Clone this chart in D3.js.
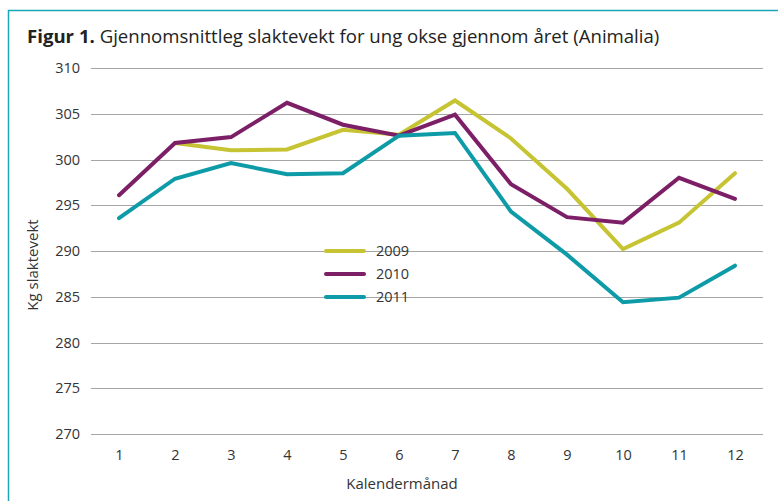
<!DOCTYPE html>
<html>
<head>
<meta charset="utf-8">
<script src="https://cdn.jsdelivr.net/npm/d3@7"></script>
<style>
  body { margin: 0; background: #fff; }
  text { font-family: "Open Sans", "Noto Sans", sans-serif; fill: #333; }
</style>
</head>
<body>
<div id="vis"></div>
<script>
// Months on the x axis
var months = [1, 2, 3, 4, 5, 6, 7, 8, 9, 10, 11, 12];

// Average weights per year (2009 has no value for January)
var v2009 = [null, 301.8, 301.0, 301.1, 303.25, 302.7, 306.45, 302.3, 296.8, 290.2, 293.1, 298.5];
var v2010 = [296.1, 301.8, 302.45, 306.2, 303.8, 302.6, 304.9, 297.3, 293.7, 293.1, 298.0, 295.7];
var v2011 = [293.6, 297.9, 299.6, 298.4, 298.5, 302.6, 302.9, 294.3, 289.6, 284.4, 284.9, 288.4];

var seriesNames = ['2009', '2010', '2011'];
var yTicks = [270, 275, 280, 285, 290, 295, 300, 305, 310];

var series = [
    { name: seriesNames[0], values: v2009, color: '#c6c432' },
    { name: seriesNames[1], values: v2010, color: '#7c1f66' },
    { name: seriesNames[2], values: v2011, color: '#0e9ba8' }
];

var width = 778;
var height = 501;
var margin = { top: 68, right: 15, bottom: 67, left: 91 };
var drawWidth = width - margin.left - margin.right;
var drawHeight = height - margin.top - margin.bottom;

var svg = d3.select('#vis')
    .append('svg')
    .attr('width', width)
    .attr('height', height);

// Frame around the figure
svg.append('path')
    .attr('d', 'M8.5,' + height + ' V10.5 H' + width)
    .attr('fill', 'none')
    .attr('stroke', '#1aa6b7')
    .attr('stroke-width', 1.5);

// Title
var title = svg.append('text')
    .attr('x', 27)
    .attr('y', 43)
    .style('font-size', '18.6px')
    .style('fill', '#222');
title.append('tspan').style('font-weight', 'bold').text('Figur 1.');
title.append('tspan').text(' Gjennomsnittleg slaktevekt for ung okse gjennom året (Animalia)');

var g = svg.append('g')
    .attr('transform', `translate(${margin.left},${margin.top})`);

var xScale = d3.scalePoint()
    .domain(months)
    .range([0, drawWidth])
    .padding(0.5);

var yScale = d3.scaleLinear()
    .domain([270, 310])
    .range([drawHeight, 0]);

// Gridlines
g.append('g')
    .selectAll('line')
    .data(yTicks)
    .enter()
    .append('line')
    .attr('x1', 0)
    .attr('x2', drawWidth)
    .attr('y1', d => Math.round(yScale(d)) + 0.5)
    .attr('y2', d => Math.round(yScale(d)) + 0.5)
    .attr('stroke', '#a6a6a6')
    .attr('stroke-width', 1);

// Axes
var yAxis = d3.axisLeft(yScale).tickValues(yTicks).tickSize(0).tickPadding(11);
var xAxis = d3.axisBottom(xScale).tickSize(0).tickPadding(16);

var yAxisG = g.append('g').call(yAxis);
var xAxisG = g.append('g')
    .attr('transform', `translate(0,${drawHeight})`)
    .call(xAxis);

[yAxisG, xAxisG].forEach(function(a) {
    a.select('.domain').remove();
    a.selectAll('text')
        .style('font-size', '14.5px')
        .style('font-family', '"Open Sans", "Noto Sans", sans-serif')
        .style('fill', '#333');
});

// Axis titles
svg.append('text')
    .attr('x', margin.left + drawWidth / 2 - 25)
    .attr('y', 489)
    .attr('text-anchor', 'middle')
    .style('font-size', '15px')
    .text('Kalendermånad');

svg.append('text')
    .attr('transform', 'translate(38,265) rotate(-90)')
    .attr('text-anchor', 'middle')
    .style('font-size', '15px')
    .text('Kg slaktevekt');

// Lines
var line = d3.line()
    .defined(d => d.v != null)
    .x(d => xScale(d.m))
    .y(d => yScale(d.v));

g.selectAll('.series')
    .data(series)
    .enter()
    .append('path')
    .attr('class', 'series')
    .attr('fill', 'none')
    .attr('stroke', d => d.color)
    .attr('stroke-width', 4)
    .attr('stroke-linecap', 'round')
    .attr('stroke-linejoin', 'miter')
    .attr('d', d => line(months.map((m, i) => ({ m: m, v: d.values[i] }))));

// Legend
var legend = svg.append('g')
    .attr('transform', 'translate(326,251)');

var items = legend.selectAll('g')
    .data(series)
    .enter()
    .append('g')
    .attr('transform', (d, i) => `translate(0,${i * 23})`);

items.append('line')
    .attr('x1', 0)
    .attr('x2', 38)
    .attr('stroke', d => d.color)
    .attr('stroke-width', 4)
    .attr('stroke-linecap', 'round');

items.append('text')
    .attr('x', 50)
    .attr('y', 5)
    .style('font-size', '14.5px')
    .text(d => d.name);
</script>
</body>
</html>
